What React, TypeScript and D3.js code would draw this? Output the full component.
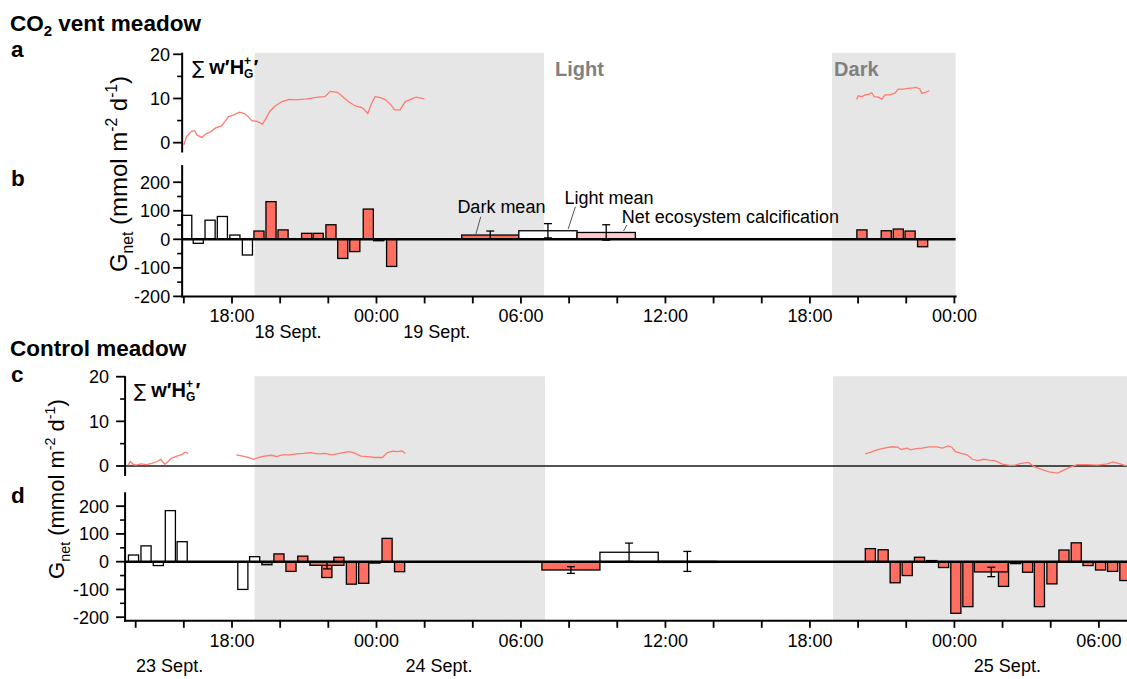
import React from 'react';
import * as d3 from 'd3';

// hours are counted from 00:00 of the first date on each axis
// (18 Sept. for the CO2 vent meadow, 23 Sept. for the control meadow)

// ---- CO2 vent meadow ----
const ventNights = [[18.94, 30.96], [42.92, 48.05]];

const ventFluxHour1 = [16.0, 16.11, 16.3, 16.45, 16.55, 16.75, 16.89, 17.12, 17.34, 17.56, 17.71, 17.86, 18.08, 18.3, 18.52, 18.67, 18.82, 19.04, 19.27, 19.41, 19.56, 19.79, 20.08, 20.38, 20.68, 21.12, 21.57, 21.86, 22.08, 22.38, 22.6, 22.83, 23.12, 23.42, 23.64, 23.79, 23.94, 24.16, 24.38, 24.61, 24.75, 24.98, 25.2, 25.42, 25.64, 25.99];
const ventFluxVal1 = [-0.5, 1.4, 2.5, 2.7, 1.7, 1.2, 1.9, 2.5, 3.4, 3.8, 4.8, 5.9, 6.3, 6.9, 6.6, 5.9, 5.0, 4.8, 4.2, 5.5, 7.0, 8.3, 9.3, 9.8, 9.7, 9.9, 10.3, 10.4, 11.6, 11.4, 10.4, 9.3, 8.3, 7.9, 6.6, 8.8, 10.4, 10.2, 9.7, 8.5, 7.4, 7.4, 9.3, 9.8, 10.3, 9.9];
const ventFluxHour2 = [43.94, 44.01, 44.15, 44.29, 44.42, 44.57, 44.67, 44.84, 44.98, 45.12, 45.33, 45.53, 45.67, 45.88, 46.09, 46.29, 46.43, 46.57, 46.64, 46.78, 46.96];
const ventFluxVal2 = [9.8, 10.6, 10.4, 10.8, 10.9, 11.3, 10.4, 10.3, 9.8, 10.8, 10.8, 11.2, 12.1, 12.1, 12.3, 12.4, 12.5, 12.1, 11.2, 11.3, 11.8];

const ventBarHour = [16.12, 16.6, 17.09, 17.6, 18.12, 18.64, 19.12, 19.62, 20.12, 21.1, 21.58, 22.11, 22.6, 23.1, 23.66, 24.09, 24.63, 44.16, 45.17, 45.67, 46.16, 46.68];
const ventBarVal = [84, -14, 67, 80, 15, -55, 29, 132, 33, 21, 21, 51, -67, -43, 106, -5, -95, 33, 30, 36, 29, -26];
const ventBarLight = [1, 1, 1, 1, 1, 1, 0, 0, 0, 0, 0, 0, 0, 0, 0, 0, 0, 0, 0, 0, 0, 0];

const meanKinds = ['dark', 'light', 'nec'];
const ventMeanStart = [27.54, 29.91, 32.33];
const ventMeanEnd = [29.91, 32.33, 34.75];
const ventMeanVal = [15, 30, 24];
const ventMeanErr = [14, 25, 27];

const ventDateLabels = ['18 Sept.', '19 Sept.'];
const ventDateHours = [20.33, 26.5];

// ---- Control meadow ----
const ctrlNights = [[18.94, 31.0], [42.96, 55.2]];

const ctrlFluxHour1 = [13.68, 13.78, 13.88, 14.0, 14.22, 14.45, 14.67, 14.89, 15.04, 15.11, 15.22, 15.34, 15.48, 15.71, 15.93, 16.05, 16.18];
const ctrlFluxVal1 = [0.2, 1.0, 0.45, 0.2, 0.45, 0.3, 0.6, 1.0, 1.5, 1.0, 0.35, 1.0, 1.7, 2.2, 2.6, 3.1, 2.8];
const ctrlFluxHour2 = [18.18, 18.45, 18.67, 18.9, 19.12, 19.34, 19.64, 19.86, 20.08, 20.38, 20.68, 20.97, 21.27, 21.57, 21.86, 22.16, 22.46, 22.83, 23.05, 23.35, 23.64, 23.94, 24.24, 24.46, 24.68, 24.9, 25.05, 25.2];
const ctrlFluxVal2 = [2.5, 2.2, 1.9, 1.5, 1.9, 2.2, 2.4, 2.1, 2.5, 2.5, 2.7, 2.8, 3.0, 2.7, 2.8, 2.5, 2.8, 3.2, 3.0, 2.2, 2.1, 1.9, 1.9, 3.0, 3.3, 3.2, 3.4, 2.8];
const ctrlFluxHour3 = [44.29, 44.47, 44.78, 45.09, 45.4, 45.64, 45.79, 46.03, 46.18, 46.41, 46.65, 46.96, 47.27, 47.5, 47.74, 47.89, 48.05, 48.28, 48.52, 48.75, 48.98, 49.21, 49.45, 49.68, 49.99, 50.3, 50.53, 50.77, 51.08, 51.31, 51.62, 51.93, 52.29, 52.48, 52.71, 53.1, 53.49, 53.95, 54.35, 54.58, 54.81, 55.04, 55.17];
const ctrlFluxVal3 = [2.7, 3.0, 3.6, 4.0, 4.3, 4.2, 3.7, 4.0, 3.6, 3.9, 4.0, 4.3, 4.3, 4.0, 4.5, 4.2, 3.2, 2.8, 2.5, 1.5, 1.2, 1.5, 1.3, 1.2, 0.4, 0.15, 0.2, 0.6, 0.8, -0.15, -0.75, -1.3, -1.6, -1.1, -0.5, 0.3, 0.3, 0.2, 0.45, 0.9, 0.6, 0.2, 0.0];

const ctrlBarHour = [13.91, 14.43, 14.94, 15.44, 15.93, 18.45, 18.94, 19.45, 19.95, 20.45, 20.94, 21.46, 21.94, 22.44, 22.96, 23.47, 23.94, 24.44, 24.96, 44.51, 45.04, 45.54, 46.04, 46.55, 47.06, 47.55, 48.06, 48.56, 50.04, 50.54, 51.04, 51.53, 52.05, 52.55, 53.06, 53.55, 54.07, 54.57, 55.08];
const ctrlBarVal = [24, 57, -14, 184, 72, -100, 18, -11, 28, -35, 20, -12, -57, 16, -81, -78, -5, 84, -36, 47, 43, -76, -50, 16, 4, -21, -186, -162, -89, -7, -38, -162, -80, 42, 68, -14, -30, -35, -68];
const ctrlBarLight = [1, 1, 1, 1, 1, 1, 1, 0, 0, 0, 0, 0, 0, 0, 0, 0, 0, 0, 0, 0, 0, 0, 0, 0, 0, 0, 0, 0, 0, 0, 0, 0, 0, 0, 0, 0, 0, 0, 0];

const ctrlSpanStart = [21.24, 48.83];
const ctrlSpanEnd = [22.65, 50.23];
const ctrlSpanVal = [-13, -37];
const ctrlSpanErr = [13, 17];

const ctrlMeanStart = [30.87, 33.28, 35.7];
const ctrlMeanEnd = [33.28, 35.7, 38.12];
const ctrlMeanVal = [-30, 34, 1];
const ctrlMeanErr = [12, 33, 36];

const ctrlDateLabels = ['23 Sept.', '24 Sept.', '25 Sept.'];
const ctrlDateHours = [15.41, 26.6, 50.2];

// ---- style ----
const FONT = '"Liberation Sans", Arial, Helvetica, sans-serif';
const RED = '#ff6e60';
const PINK = '#ffcaca';
const LINE = '#ff7a70';
const SHADE = '#e6e6e6';
const GREY_TXT = '#808080';
const PX_PER_HOUR = 24.08;

const hourScale = (h0: number, h1: number) =>
  d3.scaleLinear().domain([h0, h1]).range([232 + (h0 - 18) * PX_PER_HOUR, 232 + (h1 - 18) * PX_PER_HOUR]);

const clock = (h: number) => `${String(h % 24).padStart(2, '0')}:00`;
const meanFill = (k: string) => (k === 'dark' ? RED : k === 'light' ? '#ffffff' : PINK);

function ErrorBar({ x, y0, y1 }: { x: number; y0: number; y1: number }) {
  return (
    <g stroke="#000" strokeWidth={1.3}>
      <line x1={x} x2={x} y1={y0} y2={y1} />
      <line x1={x - 4} x2={x + 4} y1={y0} y2={y0} />
      <line x1={x - 4} x2={x + 4} y1={y1} y2={y1} />
    </g>
  );
}

function FluxLabel({ x, y }: { x: number; y: number }) {
  return (
    <text x={x} y={y} fontFamily={FONT} fontSize={20}>
      <tspan fontFamily="DejaVu Sans" fontSize={18}>∑</tspan>
      <tspan dx={5} fontWeight="bold">w′H</tspan>
      <tspan fontWeight="bold" fontSize={12} dy={-9}>+</tspan>
      <tspan fontWeight="bold" fontSize={12} dx={-7} dy={13}>G</tspan>
      <tspan fontWeight="bold" dy={-4}>′</tspan>
    </text>
  );
}

function YLabel({ x, y, size }: { x: number; y: number; size: number }) {
  const s = size * 0.65;
  const sub = size * 0.25;
  const sup = size * 0.4;
  return (
    <text transform={`translate(${x},${y}) rotate(-90)`} textAnchor="middle" fontFamily={FONT} fontSize={size}>
      G<tspan fontSize={s} dy={sub}>net</tspan>
      <tspan dy={-sub}> (mmol m</tspan>
      <tspan fontSize={s} dy={-sup}>-2</tspan>
      <tspan dy={sup}> d</tspan>
      <tspan fontSize={s} dy={-sup}>-1</tspan>
      <tspan dy={sup}>)</tspan>
    </text>
  );
}

function YAxis({ x, y, major, minor, top, labelGap }: any) {
  const [r0] = y.range();
  return (
    <g fontFamily={FONT} fontSize={18}>
      <line x1={x} x2={x} y1={r0 + 1} y2={top} stroke="#000" strokeWidth={2} />
      {minor.map((v: number) => (
        <line key={'m' + v} x1={x - 5} x2={x} y1={y(v)} y2={y(v)} stroke="#000" strokeWidth={1.6} />
      ))}
      {major.map((v: number) => (
        <g key={v}>
          <line x1={x - 9} x2={x} y1={y(v)} y2={y(v)} stroke="#000" strokeWidth={1.8} />
          <text x={x - labelGap} y={y(v)} dy="0.36em" textAnchor="end">{v}</text>
        </g>
      ))}
    </g>
  );
}

function XAxis({ x, y, ticks }: any) {
  const [r0, r1] = x.range();
  return (
    <g fontFamily={FONT} fontSize={18}>
      <line x1={r0 - 1} x2={r1 + 1} y1={y} y2={y} stroke="#000" strokeWidth={2} />
      {ticks.map((h: number) => (
        <g key={h}>
          <line x1={x(h)} x2={x(h)} y1={y} y2={y + 7} stroke="#000" strokeWidth={1.8} />
          {h % 6 === 0 && (
            <text x={x(h)} y={y + 26} textAnchor="middle">{clock(h)}</text>
          )}
        </g>
      ))}
    </g>
  );
}

function Bars({ x, y, hours, vals, light }: any) {
  const w = x(0.42) - x(0);
  return (
    <g stroke="#000" strokeWidth={1.3}>
      {hours.map((h: number, i: number) => {
        const v = vals[i];
        return (
          <rect key={i} x={x(h) - w / 2} width={w} y={Math.min(y(v), y(0))} height={Math.abs(y(v) - y(0))}
            fill={light[i] ? '#ffffff' : RED} />
        );
      })}
    </g>
  );
}

function SpanBars({ x, y, start, end, vals, errs, fills }: any) {
  return (
    <g>
      {start.map((s: number, i: number) => {
        const v = vals[i];
        const cx = (x(s) + x(end[i])) / 2;
        return (
          <g key={i}>
            <rect x={x(s)} width={x(end[i]) - x(s)} y={Math.min(y(v), y(0))} height={Math.max(1, Math.abs(y(v) - y(0)))}
              fill={fills[i]} stroke="#000" strokeWidth={1.3} />
            <ErrorBar x={cx} y0={y(v - errs[i])} y1={y(v + errs[i])} />
          </g>
        );
      })}
    </g>
  );
}

export default function App() {
  const xTop = hourScale(15.93, 48.05);
  const xBot = hourScale(13.56, 55.2);

  const aY = d3.scaleLinear().domain([-2, 20]).range([151.5, 54.3]);
  const bY = d3.scaleLinear().domain([-200, 260]).range([296.4, 165.1]);
  const cY = d3.scaleLinear().domain([-2, 20]).range([474.9, 376.7]);
  const dY = d3.scaleLinear().domain([-213, 250]).range([620.8, 492.3]);

  const line = (x: any, y: any) => d3.line<number[]>().x((d) => x(d[0])).y((d) => y(d[1]));
  const pts = (hs: number[], vs: number[]) => hs.map((h, i) => [h, vs[i]]);

  const topTicks = d3.range(16, 48.01, 2);
  const botTicks = d3.range(14, 55, 2);

  const [xt0, xt1] = xTop.range();
  const [xb0, xb1] = xBot.range();

  return (
    <svg width={1127} height={679} style={{ position: 'absolute', left: 0, top: 0, background: '#fff' }}>
      {/* shading of the dark periods */}
      {ventNights.map(([s, e], i) => (
        <rect key={'vn' + i} x={xTop(s)} width={xTop(e) - xTop(s)} y={52.7} height={bY(-200) - 52.7} fill={SHADE} />
      ))}
      {ctrlNights.map(([s, e], i) => (
        <rect key={'cn' + i} x={xBot(s)} width={xBot(e) - xBot(s)} y={376.2} height={dY(-213) - 376.2} fill={SHADE} />
      ))}

      {/* headings */}
      <g fontFamily={FONT} fontWeight="bold" fontSize={22.5}>
        <text x={10} y={31}>CO<tspan fontSize={15} dy={5}>2</tspan><tspan dy={-5}> vent meadow</tspan></text>
        <text x={11} y={57}>a</text>
        <text x={11} y={186}>b</text>
        <text x={10} y={356}>Control meadow</text>
        <text x={11} y={382}>c</text>
        <text x={11} y={503}>d</text>
      </g>
      <g fontFamily={FONT} fontWeight="bold" fontSize={20} fill={GREY_TXT}>
        <text x={xTop(ventNights[0][1]) + 11} y={76}>Light</text>
        <text x={xTop(ventNights[1][0]) + 2} y={76}>Dark</text>
      </g>

      {/* panel a */}
      {[pts(ventFluxHour1, ventFluxVal1), pts(ventFluxHour2, ventFluxVal2)].map((p, i) => (
        <path key={'al' + i} d={line(xTop, aY)(p) as string} fill="none" stroke={LINE} strokeWidth={1.3} />
      ))}
      <YAxis x={xt0} y={aY} major={[0, 10, 20]} minor={[5, 15]} top={52.7} labelGap={12} />
      <FluxLabel x={xt0 + 10} y={aY(20) + 20} />

      {/* panel b */}
      <Bars x={xTop} y={bY} hours={ventBarHour} vals={ventBarVal} light={ventBarLight} />
      <SpanBars x={xTop} y={bY} start={ventMeanStart} end={ventMeanEnd} vals={ventMeanVal} errs={ventMeanErr}
        fills={meanKinds.map(meanFill)} />
      <line x1={xt0} x2={xt1} y1={bY(0)} y2={bY(0)} stroke="#000" strokeWidth={2.4} />
      <YAxis x={xt0} y={bY} major={[-200, -100, 0, 100, 200]} minor={[-150, -50, 50, 150]} top={bY(260)} labelGap={12} />
      <XAxis x={xTop} y={bY(-200)} ticks={topTicks} />
      <YLabel x={127} y={174} size={24} />
      <g fontFamily={FONT} fontSize={18}>
        {ventDateLabels.map((t, i) => (
          <text key={t} x={xTop(ventDateHours[i])} y={338} textAnchor="middle">{t}</text>
        ))}
        <text x={xTop(27.36)} y={bY(92)}>Dark mean</text>
        <text x={xTop(31.81)} y={bY(124)}>Light mean</text>
        <text x={xTop(34.19)} y={bY(57)}>Net ecosystem calcification</text>
      </g>
      <g stroke="#555" strokeWidth={1}>
        <line x1={xTop(28.33)} y1={bY(79)} x2={xTop(28.13)} y2={bY(19)} />
        <line x1={xTop(32.26)} y1={bY(114)} x2={xTop(31.96)} y2={bY(36)} />
        <line x1={xTop(34.4)} y1={bY(50)} x2={xTop(34.26)} y2={bY(29)} />
      </g>

      {/* panel c */}
      <line x1={xb0} x2={xb1} y1={cY(0)} y2={cY(0)} stroke="#1a1a1a" strokeWidth={1.6} />
      {[pts(ctrlFluxHour1, ctrlFluxVal1), pts(ctrlFluxHour2, ctrlFluxVal2), pts(ctrlFluxHour3, ctrlFluxVal3)].map((p, i) => (
        <path key={'cl' + i} d={line(xBot, cY)(p) as string} fill="none" stroke={LINE} strokeWidth={1.3} />
      ))}
      <YAxis x={xb0} y={cY} major={[0, 10, 20]} minor={[5, 15]} top={376.2} labelGap={16} />
      <FluxLabel x={xb0 + 9} y={cY(20) + 20} />

      {/* panel d */}
      <Bars x={xBot} y={dY} hours={ctrlBarHour} vals={ctrlBarVal} light={ctrlBarLight} />
      <SpanBars x={xBot} y={dY} start={ctrlSpanStart} end={ctrlSpanEnd} vals={ctrlSpanVal} errs={ctrlSpanErr}
        fills={ctrlSpanVal.map(() => RED)} />
      <SpanBars x={xBot} y={dY} start={ctrlMeanStart} end={ctrlMeanEnd} vals={ctrlMeanVal} errs={ctrlMeanErr}
        fills={meanKinds.map(meanFill)} />
      <line x1={xb0} x2={xb1} y1={dY(0)} y2={dY(0)} stroke="#000" strokeWidth={2.4} />
      <YAxis x={xb0} y={dY} major={[-200, -100, 0, 100, 200]} minor={[-150, -50, 50, 150]} top={dY(250)} labelGap={16} />
      <XAxis x={xBot} y={dY(-213)} ticks={botTicks} />
      <YLabel x={64} y={489} size={22} />
      <g fontFamily={FONT} fontSize={18}>
        {ctrlDateLabels.map((t, i) => (
          <text key={t} x={xBot(ctrlDateHours[i])} y={672} textAnchor="middle">{t}</text>
        ))}
      </g>
    </svg>
  );
}
